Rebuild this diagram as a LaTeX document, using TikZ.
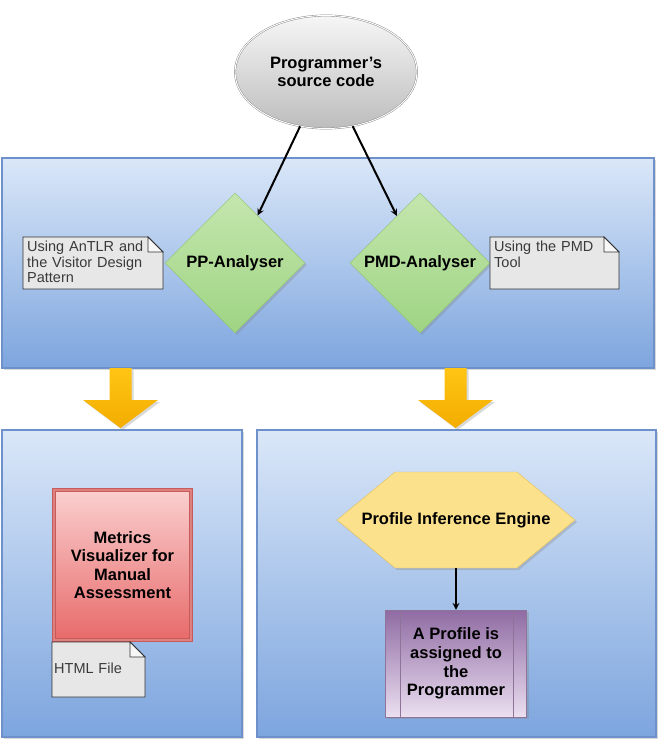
\documentclass[tikz,border=0pt]{standalone}
\usepackage{fontspec}
\setmainfont{Liberation Sans}
\usepackage{xcolor}
\usepackage{tikz}
\usetikzlibrary{shapes.geometric, arrows, positioning, calc, shadows}

\definecolor{panelTop}{HTML}{DAE7F8}
\definecolor{panelBottom}{HTML}{7DA5DE}
\definecolor{panelLine}{HTML}{6E91CB}
\definecolor{greenTop}{HTML}{C4E6AE}
\definecolor{greenBottom}{HTML}{9FD483}
\definecolor{greenLine}{HTML}{8CC46E}
\definecolor{greyTop}{HTML}{F6F6F6}
\definecolor{greyBottom}{HTML}{BDBDBD}
\definecolor{redTop}{HTML}{FACFCF}
\definecolor{redBottom}{HTML}{E86A6A}
\definecolor{redLine}{HTML}{C95A5A}
\definecolor{redBand}{HTML}{DC8080}
\definecolor{hexFill}{HTML}{FCE18C}
\definecolor{hexLine}{HTML}{E2BE5E}
\definecolor{purpleTop}{HTML}{8F6BA3}
\definecolor{purpleBottom}{HTML}{EBDFF0}
\definecolor{purpleLine}{HTML}{8E7499}
\definecolor{goldTop}{HTML}{FFC514}
\definecolor{goldBottom}{HTML}{F3AD00}
\definecolor{noteFill}{HTML}{E7E7E7}
\definecolor{foldFill}{HTML}{F7F7F7}
\definecolor{noteText}{HTML}{3A3A3A}

\newcommand{\boldlabel}{\fontsize{16.5}{18.6}\selectfont\bfseries}
\newcommand{\notelabel}{\fontsize{14.5}{15.5}\selectfont}

\tikzstyle{panel} = [rectangle, draw=panelLine, line width=1.5pt, top color=panelTop, bottom color=panelBottom, drop shadow={shadow xshift=2pt, shadow yshift=-2pt, opacity=0.3}]
\tikzstyle{source} = [ellipse, minimum width=182pt, minimum height=113pt, draw=gray, double=white, double distance=1pt, top color=greyTop, bottom color=greyBottom, align=center, font=\boldlabel]
\tikzstyle{analyser} = [diamond, aspect=1, minimum width=140pt, minimum height=140pt, inner sep=0pt, draw=greenLine, top color=greenTop, bottom color=greenBottom, font=\boldlabel, drop shadow={shadow xshift=2pt, shadow yshift=-2pt, opacity=0.3}]
\tikzstyle{visualizer} = [rectangle, minimum width=137pt, minimum height=150pt, draw=redLine, double=redBand, double distance=2.5pt, line width=0.7pt, top color=redTop, bottom color=redBottom, align=center, font=\boldlabel, drop shadow={shadow xshift=2pt, shadow yshift=-2pt, opacity=0.3}]
\tikzstyle{hexagon} = [draw=hexLine, fill=hexFill, drop shadow={shadow xshift=2pt, shadow yshift=-2pt, opacity=0.3}]
\tikzstyle{engine} = [rectangle, minimum width=238pt, minimum height=96pt, inner sep=0pt, font=\boldlabel]
\tikzstyle{assigned} = [rectangle, minimum width=141pt, minimum height=107pt, draw=purpleLine, top color=purpleTop, bottom color=purpleBottom, align=center, font=\boldlabel, drop shadow={shadow xshift=2pt, shadow yshift=-2pt, opacity=0.3}]
\tikzstyle{note} = [text width=134pt, align=left, inner sep=4pt, text=noteText, font=\notelabel]
\tikzstyle{paper} = [draw=black!80, fill=noteFill, line width=0.8pt]
\tikzstyle{fold} = [draw=black!80, fill=foldFill, line width=0.8pt]
\tikzstyle{bigarrow} = [top color=goldTop, bottom color=goldBottom, drop shadow={shadow xshift=2pt, shadow yshift=-2pt, opacity=0.3}]
\tikzstyle{link} = [line width=2pt,->,>=stealth]

\begin{document}
\begin{tikzpicture}[x=1pt, y=-1pt]
\useasboundingbox (0,0) rectangle (662,743);

% panels
\node (analysis) [panel, minimum width=652pt, minimum height=210pt] at (328,263) {};
\node (manual) [panel, minimum width=240pt, minimum height=307pt] at (122,583.5) {};
\node (inference) [panel, minimum width=399pt, minimum height=307pt] at (456.5,583.5) {};

% yellow arrows between panels
\coordinate (dropL) at (120.5,368);
\coordinate (dropR) at (455.5,368);
\shade [bigarrow] (dropL) ++(-11,0) -- ++(22,0) -- ++(0,32) -- ++(26.5,0) -- ++(-37.5,28) -- ++(-37.5,-28) -- ++(26.5,0) -- cycle;
\shade [bigarrow] (dropR) ++(-11,0) -- ++(22,0) -- ++(0,32) -- ++(26.5,0) -- ++(-37.5,28) -- ++(-37.5,-28) -- ++(26.5,0) -- cycle;

\node (source) [source] at (326,72) {Programmer's\\source code};
\node (ppA) [analyser] at (235,263) {PP-Analyser};
\node (pmdA) [analyser, right of=ppA, node distance=185pt] {PMD-Analyser};

% notes
\coordinate (ppNoteC) at (23,237);
\filldraw [paper] (ppNoteC) -- ++(125,0) -- ++(15,15) -- ++(0,37) -- ++(-140,0) -- cycle;
\filldraw [fold] (ppNoteC) ++(125,0) -- ++(0,15) -- ++(15,0) -- cycle;
\node (ppNote) [note, anchor=north west] at (ppNoteC) {Using AnTLR and\\the Visitor Design\\Pattern};

\coordinate (pmdNoteC) at (490,237);
\filldraw [paper] (pmdNoteC) -- ++(114,0) -- ++(15,15) -- ++(0,37) -- ++(-129,0) -- cycle;
\filldraw [fold] (pmdNoteC) ++(114,0) -- ++(0,15) -- ++(15,0) -- cycle;
\node (pmdNote) [note, anchor=north west] at (pmdNoteC) {Using the PMD\\Tool};

\node (visualizer) [visualizer] at (122.5,565) {Metrics\\Visualizer for\\Manual\\Assessment};

\coordinate (htmlNoteC) at (52,642);
\filldraw [paper] (htmlNoteC) -- ++(78,0) -- ++(15,15) -- ++(0,40) -- ++(-93,0) -- cycle;
\filldraw [fold] (htmlNoteC) ++(78,0) -- ++(0,15) -- ++(15,0) -- cycle;
\node (htmlNote) [note, anchor=west, text width=80pt] at (50,668) {HTML File};

% hexagon behind the engine label
\coordinate (engineC) at (456,520);
\filldraw [hexagon] (engineC) ++(-119,0) -- ++(58,-48) -- ++(122,0) -- ++(58,48) -- ++(-58,48) -- ++(-122,0) -- cycle;
\node (engine) [engine] at (engineC) {Profile Inference Engine};
\node (profile) [assigned, below of=engine, node distance=143.5pt] {A Profile is\\assigned to\\the\\Programmer};
\draw [purpleLine] ($(profile.north west)+(15,0)$) -- ($(profile.south west)+(15,0)$);
\draw [purpleLine] ($(profile.north east)+(-14,0)$) -- ($(profile.south east)+(-14,0)$);

\draw [link] (source) -- (ppA);
\draw [link] (source) -- (pmdA);
\draw [link] (engine) -- (profile);

\end{tikzpicture}
\end{document}
